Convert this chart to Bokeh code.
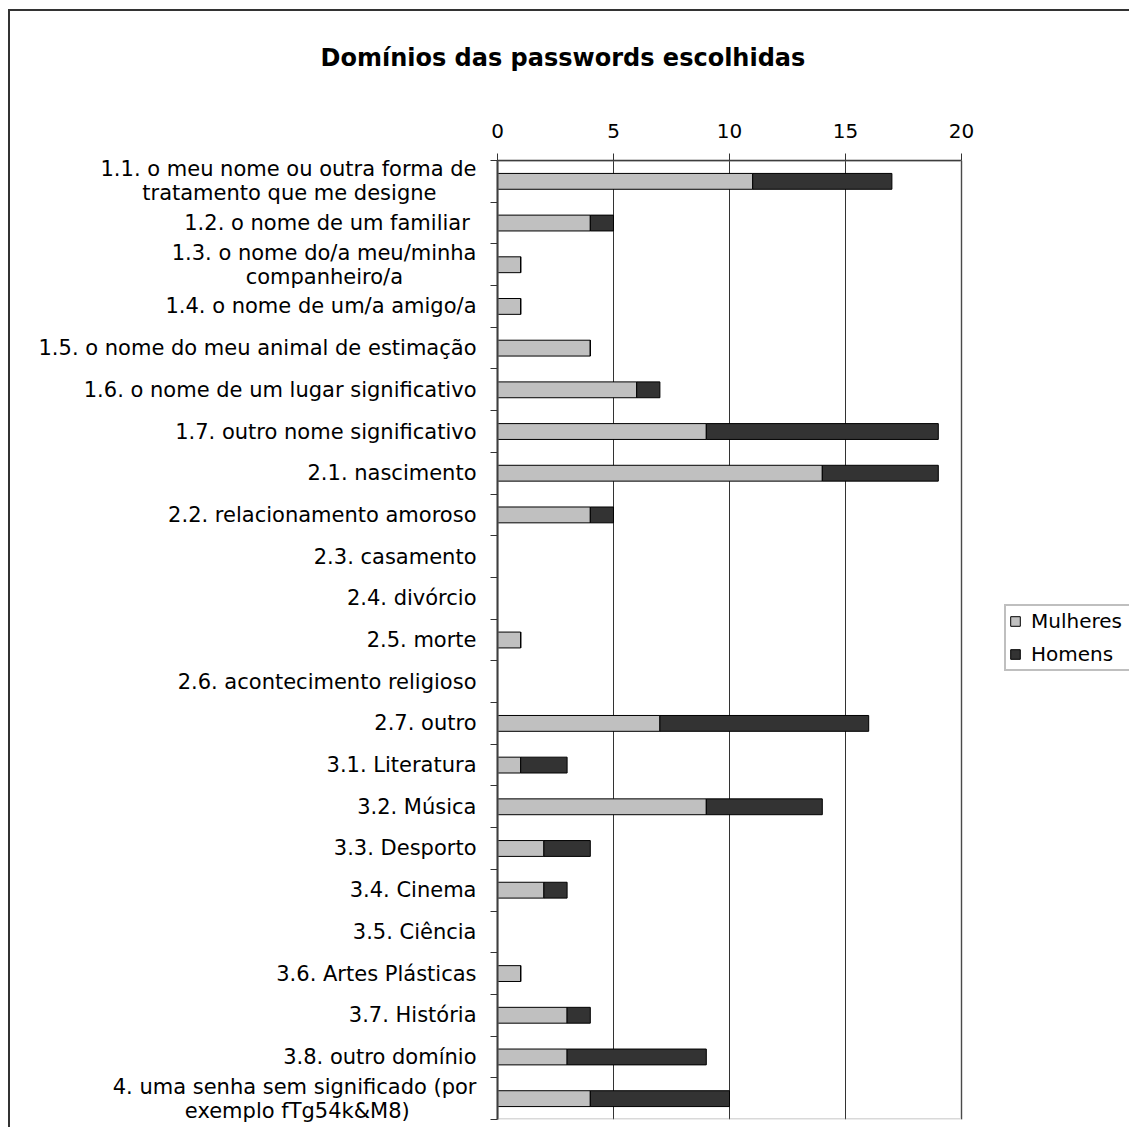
from bokeh.plotting import figure
from bokeh.models import (ColumnDataSource, Range1d, FixedTicker, Legend, LegendItem,
                          BoxAnnotation)
from bokeh.layouts import column
from bokeh.embed import file_html
from bokeh.resources import INLINE

categories = [
    "1.1. o meu nome ou outra forma de\ntratamento que me designe",
    "1.2. o  nome de um familiar",
    "1.3. o nome do/a meu/minha\ncompanheiro/a",
    "1.4. o nome de um/a amigo/a",
    "1.5. o nome do meu animal de estimação",
    "1.6. o nome de um lugar significativo",
    "1.7. outro nome significativo",
    "2.1. nascimento",
    "2.2. relacionamento amoroso",
    "2.3. casamento",
    "2.4. divórcio",
    "2.5. morte",
    "2.6. acontecimento religioso",
    "2.7. outro",
    "3.1. Literatura",
    "3.2. Música",
    "3.3. Desporto",
    "3.4. Cinema",
    "3.5. Ciência",
    "3.6. Artes Plásticas",
    "3.7. História",
    "3.8. outro domínio",
    "4. uma senha sem significado (por\nexemplo fTg54k&M8)",
]
mulheres = [11, 4, 1, 1, 4, 6, 9, 14, 4, 0, 0, 1, 0, 7, 1, 9, 2, 2, 0, 1, 3, 3, 4]
homens = [6, 1, 0, 0, 0, 1, 10, 5, 1, 0, 0, 0, 0, 9, 2, 5, 2, 1, 0, 0, 1, 6, 6]
series_names = ["Mulheres", "Homens"]
x_ticks = [0, 5, 10, 15, 20]
title_text = "Domínios das passwords escolhidas"

FONT = "DejaVu Sans"
NBSP = "\u00a0"


def centered_label(label, pad):
    # visually centre the second line under the first one (axis labels are right-aligned)
    lines = label.split("\n")
    if len(lines) == 2:
        return lines[0] + "\n" + lines[1] + NBSP * pad
    return label


# number of pad characters per two-line label (styling only)
line_pad = {0: 6, 2: 11, 22: 10}

n = len(categories)
ypos = list(range(n))
source = ColumnDataSource(dict(y=ypos, Mulheres=mulheres, Homens=homens))

W = 1119
TITLE_H = 95
MAIN_H = 1021
FRAME_LEFT = 487
AXIS_W = 464  # pixel width of the 0..20 span
x_end = x_ticks[-1] * (W - FRAME_LEFT) / AXIS_W

# ---- title strip ----
tf = figure(width=W, height=TITLE_H, output_backend="svg", toolbar_location=None,
            x_axis_type=None, y_axis_type=None,
            min_border_left=FRAME_LEFT, min_border_right=0, min_border_top=0, min_border_bottom=0)
tf.outline_line_color = None
tf.xgrid.grid_line_color = None
tf.ygrid.grid_line_color = None
tf.title.text = title_text
tf.title.align = "left"
tf.title.offset = -177
tf.title.vertical_align = "bottom"
tf.title.standoff = 70
tf.title.text_font = FONT
tf.title.text_font_size = "24px"
tf.title.text_font_style = "bold"
tf.title.text_color = "#000000"

# ---- main chart ----
p = figure(width=W, height=MAIN_H, output_backend="svg", toolbar_location=None,
           x_range=Range1d(0, x_end), y_range=Range1d(n - 0.5, -0.5),
           x_axis_location="above",
           min_border_left=FRAME_LEFT, min_border_right=0, min_border_top=54, min_border_bottom=8)
p.outline_line_color = None

rs = p.hbar_stack(series_names, y="y", height=0.38, source=source,
                  fill_color=["#C0C0C0", "#333333"], line_color="#000000", line_width=1)

# plot-area border (grey, right and bottom)
p.add_layout(BoxAnnotation(left=x_ticks[0], right=x_ticks[-1], top=-0.5, bottom=n - 0.5,
                           fill_alpha=0, line_color="#808080", line_width=3))

# x axis (top)
xa = p.xaxis[0]
xa.ticker = FixedTicker(ticks=x_ticks, minor_ticks=[])
xa.bounds = (x_ticks[0], x_ticks[-1])
xa.major_tick_out = 7
xa.major_tick_in = 0
xa.major_label_standoff = 16
xa.major_label_text_font = FONT
xa.major_label_text_font_size = "20px"
xa.major_label_text_color = "#000000"
xa.axis_line_color = "#333333"
xa.axis_line_width = 1.5
xa.major_tick_line_color = "#333333"

# y axis (left)
ya = p.yaxis[0]
ya.ticker = FixedTicker(ticks=ypos, minor_ticks=[i - 0.5 for i in range(n + 1)])
ya.major_label_overrides = {i: centered_label(c, line_pad.get(i, 0)) for i, c in zip(ypos, categories)}
ya.major_tick_line_color = None
ya.major_tick_out = 0
ya.major_tick_in = 0
ya.minor_tick_out = 7
ya.minor_tick_in = 0
ya.minor_tick_line_color = "#333333"
ya.major_label_standoff = 14
ya.major_label_text_font = FONT
ya.major_label_text_font_size = "21px"
ya.major_label_text_line_height = 1.0
ya.major_label_text_color = "#000000"
ya.axis_line_color = "#333333"
ya.axis_line_width = 2

p.xgrid.ticker = FixedTicker(ticks=x_ticks)
p.xgrid.grid_line_color = "#333333"
p.xgrid.grid_line_width = 1
p.ygrid.grid_line_color = None

lg = Legend(items=[LegendItem(label=nm, renderers=[r]) for nm, r in zip(series_names, rs)],
            location=(507, 448), orientation="vertical")
lg.label_text_font = FONT
lg.label_text_font_size = "20px"
lg.label_text_color = "#000000"
lg.glyph_width = 12
lg.glyph_height = 12
lg.label_height = 22
lg.label_width = 110
lg.label_standoff = 10
lg.spacing = 9
lg.padding = 3
lg.margin = 0
lg.border_line_color = "#808080"
lg.border_line_width = 2
lg.background_fill_color = "#ffffff"
lg.background_fill_alpha = 1
p.add_layout(lg, "center")

layout = column(tf, p, spacing=0)
layout.styles = {"margin-left": "8px", "margin-top": "9px",
                 "border-left": "2px solid #333333", "border-top": "2px solid #333333"}

open("out.html", "w").write(file_html(layout, INLINE))
